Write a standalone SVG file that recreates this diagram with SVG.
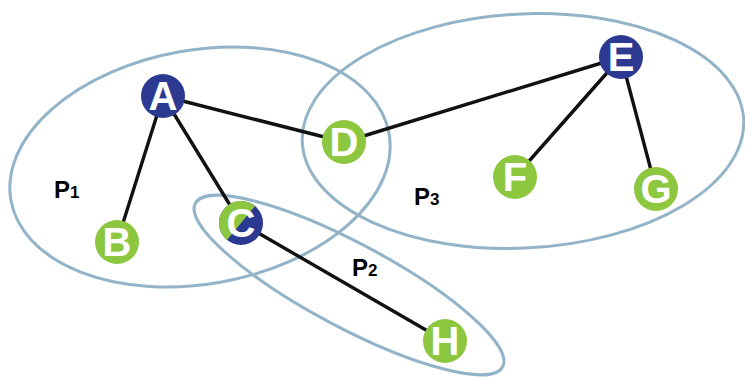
<svg xmlns="http://www.w3.org/2000/svg" width="745" height="378" viewBox="0 0 745 378">
<style>
.part{fill:none;stroke:#93b3c9;stroke-width:3}
.edge{stroke:#111;stroke-width:3.4;stroke-linecap:round}
.blue{fill:#2b3990}
.green{fill:#8dc63f}
.lt{font-family:"Liberation Sans",Arial,sans-serif;font-weight:bold;font-size:40px;fill:#fff;text-anchor:middle}
.pl{font-family:"Liberation Sans",Arial,sans-serif;font-weight:bold;font-size:24px;fill:#000}
.sub{font-size:17px}
</style>
<rect width="745" height="378" fill="#fff"/>
<g id="partitions">
<ellipse id="P1" class="part" cx="200" cy="167" rx="192" ry="117" transform="rotate(-10 200 167)"/>
<ellipse id="P3" class="part" cx="523" cy="131" rx="221" ry="117" transform="rotate(-3 523 131)"/>
<ellipse id="P2" class="part" cx="349" cy="285" rx="174" ry="42" transform="rotate(28 349 285)"/>
</g>
<g id="connectors">
<line class="edge" x1="163" y1="96" x2="117" y2="242"/>
<line class="edge" x1="163" y1="96" x2="241" y2="223"/>
<line class="edge" x1="163" y1="96" x2="344" y2="142"/>
<line class="edge" x1="344" y1="142" x2="621" y2="57"/>
<line class="edge" x1="621" y1="57" x2="515" y2="177"/>
<line class="edge" x1="621" y1="57" x2="656" y2="189"/>
<line class="edge" x1="241" y1="223" x2="445" y2="341"/>
</g>
<g id="A"><circle class="blue" cx="163" cy="96" r="22"/><text class="lt" x="163" y="110">A</text></g>
<g id="B"><circle class="green" cx="117" cy="242" r="22"/><text class="lt" x="117" y="256">B</text></g>
<g id="C"><circle class="blue" cx="241" cy="223" r="22"/><path class="green" d="M255,206 A22,22 0 0 0 227,240 Z"/><text class="lt" x="241" y="237">C</text></g>
<g id="D"><circle class="green" cx="344" cy="142" r="22"/><text class="lt" x="344" y="156">D</text></g>
<g id="E"><circle class="blue" cx="621" cy="57" r="22"/><text class="lt" x="621" y="71">E</text></g>
<g id="F"><circle class="green" cx="515" cy="177" r="22"/><text class="lt" x="515" y="191">F</text></g>
<g id="G"><circle class="green" cx="656" cy="189" r="22"/><text class="lt" x="656" y="203">G</text></g>
<g id="H"><circle class="green" cx="445" cy="341" r="22"/><text class="lt" x="445" y="355">H</text></g>
<g id="labels">
<text class="pl" x="54" y="198">P<tspan class="sub">1</tspan></text>
<text class="pl" x="352" y="276">P<tspan class="sub">2</tspan></text>
<text class="pl" x="414" y="205">P<tspan class="sub">3</tspan></text>
</g>
</svg>
